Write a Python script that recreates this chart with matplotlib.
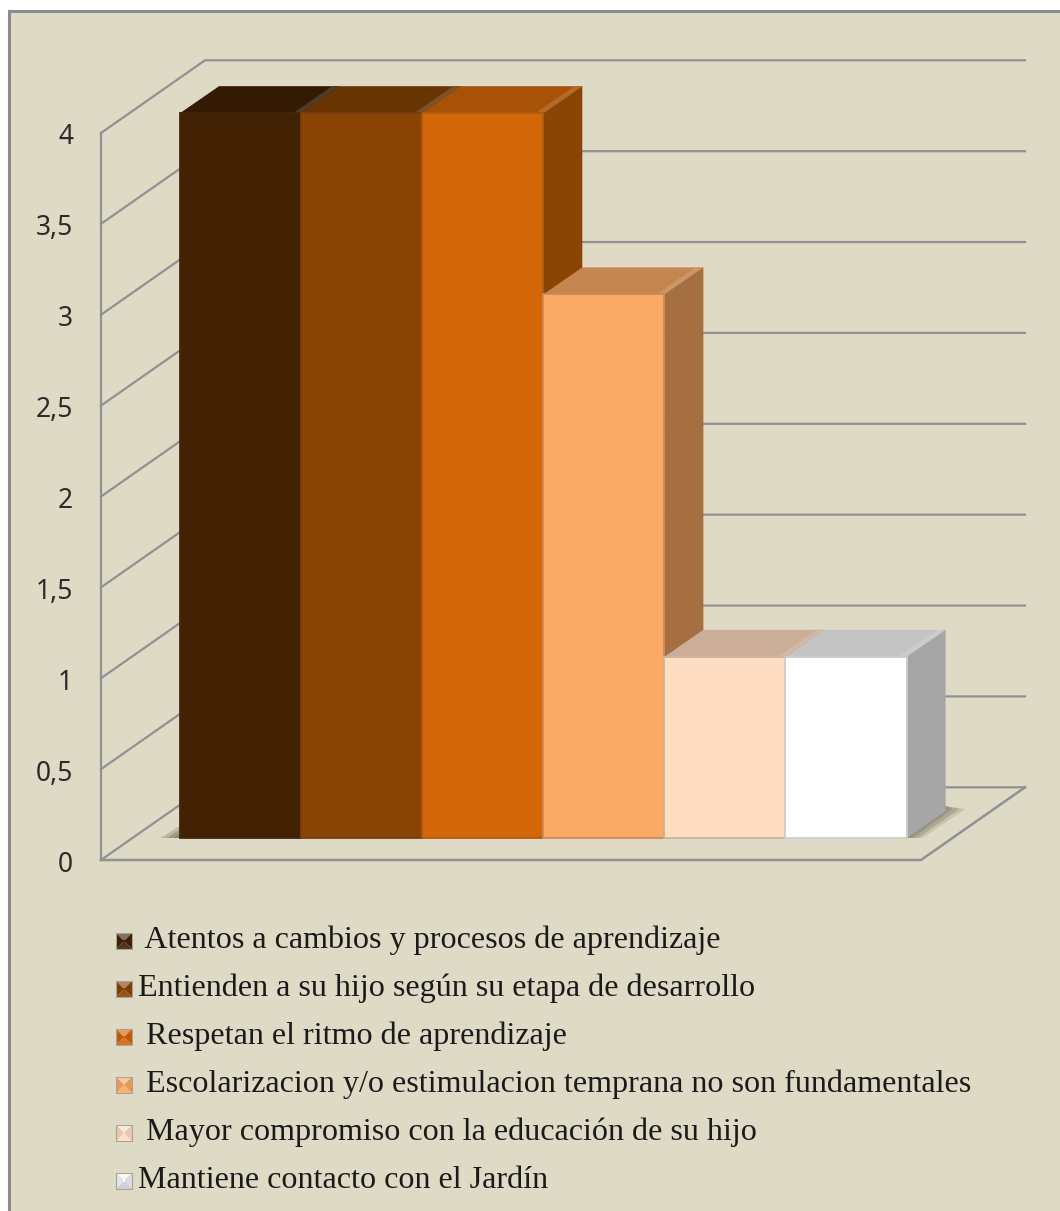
import matplotlib
matplotlib.use("Agg")
import matplotlib.pyplot as plt
from matplotlib.patches import Polygon, Rectangle
from matplotlib.transforms import Affine2D, offset_copy

categories = [
    " Atentos a cambios y procesos de aprendizaje",
    "Entienden a su hijo según su etapa de desarrollo",
    " Respetan el ritmo de aprendizaje",
    " Escolarizacion y/o estimulacion temprana no son fundamentales",
    " Mayor compromiso con la educación de su hijo",
    "Mantiene contacto con el Jardín",
]
values = [4, 4, 4, 3, 1, 1]
front_colors = ["#432204", "#8A4505", "#D4660A", "#FBA966", "#FFDDC2", "#FFFFFF"]
top_colors = ["#351A03", "#693503", "#A85208", "#C5854F", "#CBAD98", "#C4C4C4"]
side_colors = ["#2E1703", "#5E3004", "#8A4505", "#A56F42", "#A89080", "#A6A6A6"]
y_ticks = [0, 0.5, 1, 1.5, 2, 2.5, 3, 3.5, 4]
y_labels = ["0", "0,5", "1", "1,5", "2", "2,5", "3", "3,5", "4"]

W, H = 1060, 1211
BG = "#DFDAC5"
GRID = "#8F9293"

# axes px scale: 121.1 px per bar, 181.75 px per unit
PX_X = 121.1
PX_Y = 181.75
BAR_DX, BAR_DY = 39 / PX_X, 27 / PX_Y
WALL_DX, WALL_DY = 104 / PX_X, 72.7 / PX_Y
BAR_BASE = 22 / PX_Y
BAR_SCALE = 0.997


def mix(color, other, amount):
    a = matplotlib.colors.to_rgb(color)
    b = matplotlib.colors.to_rgb(other)
    return tuple(x * (1 - amount) + y * amount for x, y in zip(a, b))


fig = plt.figure(figsize=(W / 100, H / 100), dpi=100, facecolor="white")
px = Affine2D().scale(1 / W, -1 / H).translate(0, 1) + fig.transFigure

# panel behind everything
fig.patches.append(Rectangle((8.5, 10.5), W + 20, H + 20, transform=px, facecolor=BG,
                             edgecolor="#8C8C8C", linewidth=2.2, zorder=-1))

ax = fig.add_axes([101 / W, 1 - 860 / H, (W - 101) / W, 727 / H])
ax.patch.set_visible(False)
x_left = -0.5 - (180 - 101) / PX_X
x_right = x_left + (W - 101) / PX_X
ax.set_xlim(x_left, x_right)
ax.set_ylim(0, 4)
for name in ["top", "right", "bottom"]:
    ax.spines[name].set_visible(False)
ax.spines["left"].set_color(GRID)
ax.spines["left"].set_linewidth(1.6)
ax.set_xticks([])
ax.set_yticks(y_ticks)
ax.set_yticklabels(y_labels, fontfamily="Noto Sans", fontsize=19, color="#2B2B2B")
ax.tick_params(axis="y", length=0, pad=20)
for lab in ax.get_yticklabels():
    lab.set_transform(offset_copy(lab.get_transform(), fig=fig, y=-1, units="dots"))

# walls and floor
back_x = x_left + WALL_DX
wall_end = back_x + 820 / PX_X
for t in y_ticks:
    ax.plot([x_left, back_x, wall_end], [t, t + WALL_DY, t + WALL_DY],
            color=GRID, lw=1.6, clip_on=False, zorder=1, solid_joinstyle="miter")
ax.plot([x_left, wall_end - WALL_DX, wall_end], [0, 0, WALL_DY],
        color=GRID, lw=1.8, clip_on=False, zorder=1)

# soft shadow on the floor
n = len(values)
r_edge = n - 0.5
l_edge = -0.5
lift = 5 / PX_Y
for grow, alpha in [(20, 0.2), (14, 0.3), (7, 0.35)]:
    g = grow / PX_X
    ax.fill([r_edge, r_edge + BAR_DX, r_edge + BAR_DX + g, r_edge + g * 0.8],
            [BAR_BASE, BAR_BASE + BAR_DY + lift, BAR_BASE + BAR_DY + lift * 0.4, BAR_BASE],
            color="#6F6D58", alpha=alpha, lw=0, clip_on=False, zorder=2)
    ax.fill([l_edge, l_edge - g, l_edge],
            [BAR_BASE, BAR_BASE, BAR_BASE + grow * 0.6 / PX_Y],
            color="#6F6D58", alpha=alpha + 0.1, lw=0, clip_on=False, zorder=2)

# bars, left to right, each one overlapping the side of the previous
strip = 8 / PX_X
for i, v in enumerate(values):
    h = v * BAR_SCALE
    x0, x1 = i - 0.5, i + 0.5
    y0, y1 = BAR_BASE, BAR_BASE + h
    z = 3 + i * 2
    ax.fill([x0, x1, x1 + BAR_DX, x0 + BAR_DX], [y1, y1, y1 + BAR_DY, y1 + BAR_DY],
            color=top_colors[i], lw=0, clip_on=False, zorder=z)
    # lighter ridge along the top face, next to the side
    ax.fill([x1 - strip, x1, x1 + BAR_DX, x1 + BAR_DX - strip],
            [y1, y1, y1 + BAR_DY, y1 + BAR_DY],
            color=mix(top_colors[i], "white", 0.14), lw=0, clip_on=False, zorder=z)
    ax.fill([x1, x1 + BAR_DX, x1 + BAR_DX, x1], [y0, y0 + BAR_DY, y1 + BAR_DY, y1],
            color=side_colors[i], lw=0, clip_on=False, zorder=z)
    ax.bar(i, h, width=1, bottom=y0, color=front_colors[i], clip_on=False, zorder=z + 1,
           edgecolor=mix(front_colors[i], "#403020", 0.25), linewidth=1.3)

# legend, hand placed because rows have uneven indents
row_y = [941, 989, 1037, 1085, 1133, 1181]
for i, label in enumerate(categories):
    cx, cy, s, inner = 124, row_y[i], 8, 1
    c = front_colors[i]
    shades = [mix(c, "white", 0.35), mix(c, "black", 0.1), mix(c, "white", 0.08),
              mix(c, "black", 0.1)]
    if i == 5:
        shades = ["#F8F8FA", "#DCDCE0", "#D0D0D4", "#E4E4E8"]
    outer = [(cx - s, cy - s), (cx + s, cy - s), (cx + s, cy + s), (cx - s, cy + s)]
    inn = [(cx - inner, cy - inner), (cx + inner, cy - inner),
           (cx + inner, cy + inner), (cx - inner, cy + inner)]
    for k in range(4):
        pts = [outer[k], outer[(k + 1) % 4], inn[(k + 1) % 4], inn[k]]
        fig.patches.append(Polygon(pts, closed=True, transform=px, facecolor=shades[k],
                                   edgecolor="none"))
    fig.patches.append(Polygon(inn, closed=True, transform=px, facecolor=c, edgecolor="none"))
    fig.patches.append(Polygon(outer, closed=True, transform=px, facecolor="none",
                               edgecolor=mix(BG, "#555555", 0.4), linewidth=0.8))
    fig.text(138, row_y[i] + 7, label, transform=px, family="Liberation Serif", fontsize=23.1,
             color="#1A1A1A", ha="left", va="baseline")

fig.savefig("out.png", dpi=100, facecolor=fig.get_facecolor())
